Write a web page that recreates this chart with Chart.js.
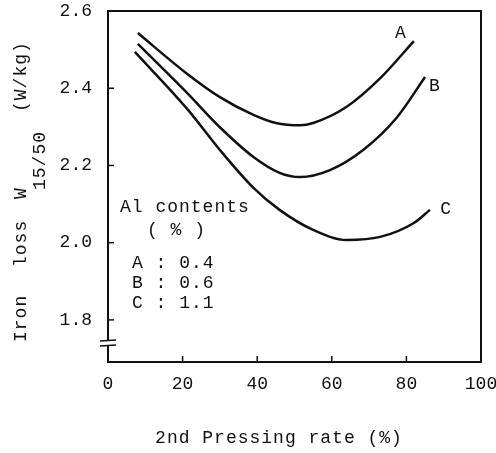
<!DOCTYPE html>
<html>
<head>
<meta charset="utf-8">
<script src="https://cdn.jsdelivr.net/npm/chart.js@4.4.1/dist/chart.umd.min.js"></script>
<style>
  body { margin: 0; background: #fff; }
  canvas { display: block; }
</style>
</head>
<body>
<canvas id="chart" width="496" height="453"></canvas>
<script>
// valores (taxa de prensagem % x perda W/kg)
const rateA = [8, 21, 30, 39, 45, 51.5, 55, 64, 73, 82];
const lossA = [2.543, 2.439, 2.377, 2.331, 2.310, 2.304, 2.310, 2.352, 2.426, 2.522];
const rateB = [8, 21, 30, 39, 46, 51.5, 59.5, 68.4, 77.5, 85];
const lossB = [2.515, 2.390, 2.299, 2.222, 2.181, 2.170, 2.188, 2.240, 2.325, 2.429];
const rateC = [7.2, 21, 30, 39, 46, 55, 64, 73, 82, 86.3];
const lossC = [2.494, 2.349, 2.240, 2.142, 2.085, 2.033, 2.007, 2.015, 2.051, 2.085];
const curveNames = ["A", "B", "C"];
const alContents = ["0.4", "0.6", "1.1"];
const xTicks = [0, 20, 40, 60, 80, 100];
const yTicks = [1.8, 2.0, 2.2, 2.4, 2.6];

const FONT = "'Liberation Mono', 'DejaVu Sans Mono', monospace";
const INK = "#111";

function pts(xs, ys) {
  return xs.map((x, i) => ({ x: x, y: ys[i] }));
}

function serie(label, xs, ys) {
  return {
    label: label,
    data: pts(xs, ys),
    showLine: true,
    borderColor: INK,
    borderWidth: 2.5,
    pointRadius: 0,
    cubicInterpolationMode: "monotone",
    fill: false
  };
}

// textos, moldura, ticks internos e quebra do eixo
const extras = {
  id: "extras",
  afterDraw(chart) {
    const ctx = chart.ctx;
    const a = chart.chartArea;
    const xs = chart.scales.x;
    const ys = chart.scales.y;
    ctx.save();
    ctx.strokeStyle = INK;
    ctx.fillStyle = INK;
    ctx.lineWidth = 2;
    ctx.strokeRect(a.left, a.top, a.right - a.left, a.bottom - a.top);

    // ticks para dentro
    ctx.lineWidth = 1.5;
    yTicks.forEach(v => {
      const y = ys.getPixelForValue(v);
      ctx.beginPath(); ctx.moveTo(a.left, y); ctx.lineTo(a.left + 6, y); ctx.stroke();
    });
    xTicks.slice(1, -1).forEach(v => {
      const x = xs.getPixelForValue(v);
      ctx.beginPath(); ctx.moveTo(x, a.bottom); ctx.lineTo(x, a.bottom - 6); ctx.stroke();
    });

    // quebra do eixo y
    const yb = ys.getPixelForValue(1.74);
    ctx.fillStyle = "#fff";
    ctx.fillRect(a.left - 2, yb - 2, 4, 5);
    ctx.fillStyle = INK;
    ctx.beginPath();
    ctx.moveTo(a.left - 8, yb - 2); ctx.lineTo(a.left + 8, yb - 3);
    ctx.moveTo(a.left - 8, yb + 3); ctx.lineTo(a.left + 8, yb + 2);
    ctx.stroke();

    ctx.font = "18px " + FONT;
    ctx.letterSpacing = "1px";
    ctx.textBaseline = "middle";
    ctx.textAlign = "left";

    // rótulos das curvas
    const labelPos = [[78.3, 2.543], [87.4, 2.405], [90.4, 2.087]];
    curveNames.forEach((n, i) => {
      ctx.fillText(n, xs.getPixelForValue(labelPos[i][0]) - 5, ys.getPixelForValue(labelPos[i][1]));
    });

    // legenda de teor de Al
    ctx.fillText("Al contents", 120, 207);
    ctx.fillText("( % )", 147, 230);
    curveNames.forEach((n, i) => {
      ctx.fillText(n + " : " + alContents[i], 132, 263 + i * 20);
    });

    // título do eixo x
    ctx.textAlign = "center";
    ctx.fillText("2nd Pressing rate (%)", 279, 438);

    // título do eixo y (rotacionado, com subscrito)
    ctx.textAlign = "left";
    ctx.translate(21, 0);
    ctx.rotate(-Math.PI / 2);
    ctx.fillText("Iron", -342, 0);
    ctx.fillText("loss", -267, 0);
    ctx.fillText("W", -199, 0);
    ctx.fillText("(W/kg)", -112, 0);
    ctx.fillText("15/50", -190, 19);
    ctx.restore();
  }
};

new Chart(document.getElementById("chart"), {
  type: "scatter",
  data: {
    datasets: [
      serie(curveNames[0], rateA, lossA),
      serie(curveNames[1], rateB, lossB),
      serie(curveNames[2], rateC, lossC)
    ]
  },
  options: {
    responsive: false,
    animation: false,
    layout: { padding: { left: 0, top: 11, right: 15, bottom: 0 } },
    plugins: {
      legend: { display: false },
      tooltip: { enabled: false }
    },
    scales: {
      x: {
        type: "linear",
        min: 0,
        max: 100,
        afterFit: s => { s.height = 91; s.paddingLeft = 0; s.paddingRight = 0; },
        afterBuildTicks: s => { s.ticks = xTicks.map(v => ({ value: v })); },
        grid: { display: false, drawTicks: false },
        border: { display: false },
        ticks: {
          color: INK,
          padding: 11,
          autoSkip: false,
          maxRotation: 0,
          font: { family: FONT, size: 18 }
        }
      },
      y: {
        type: "linear",
        min: 1.691,
        max: 2.6,
        afterFit: s => { s.width = 108; s.paddingTop = 0; s.paddingBottom = 0; },
        afterBuildTicks: s => { s.ticks = yTicks.map(v => ({ value: v })); },
        grid: { display: false, drawTicks: false },
        border: { display: false },
        ticks: {
          color: INK,
          padding: 16,
          autoSkip: false,
          font: { family: FONT, size: 18 },
          callback: v => v.toFixed(1)
        }
      }
    }
  },
  plugins: [extras]
});
</script>
</body>
</html>
